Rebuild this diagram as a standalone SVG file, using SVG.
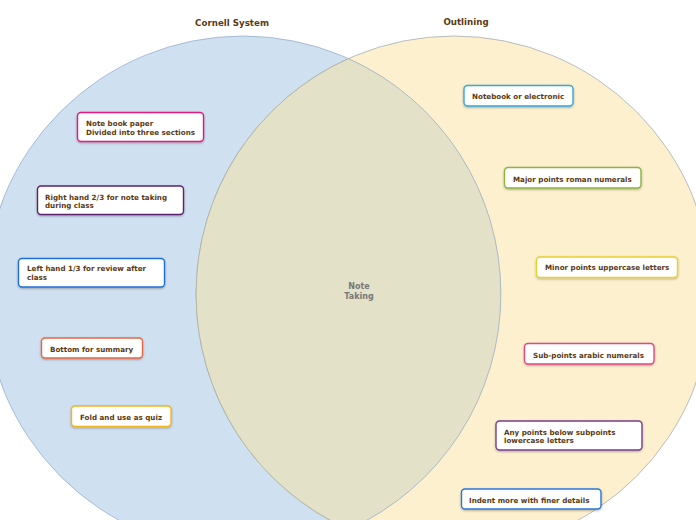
<svg xmlns="http://www.w3.org/2000/svg" width="696" height="520" viewBox="0 0 696 520">
<defs>
<filter id="sh" x="-10%" y="-30%" width="120%" height="170%">
<feDropShadow dx="0" dy="1" stdDeviation="0.8" flood-color="#000" flood-opacity="0.3"/>
</filter>
</defs>
<style>
.title{font-family:"DejaVu Sans",Verdana,sans-serif;font-weight:bold;font-size:8.7px;fill:#5c3a12;text-anchor:middle}
.lbl{font-family:"DejaVu Sans",Verdana,sans-serif;font-weight:bold;font-size:7.15px;fill:#5c3a12}
.ctr{font-family:"DejaVu Sans",Verdana,sans-serif;font-weight:bold;font-size:8px;fill:#777;text-anchor:middle}
.box{fill:#fff;stroke-width:1.4;filter:url(#sh)}
</style>
<rect width="696" height="520" fill="#fff"/>
<g id="venn">
<circle id="cornell" cx="243" cy="294" r="258" fill="#cfe0f1" stroke="#8ea6c4" stroke-width="0.7"/>
<circle id="outlining" cx="454" cy="294" r="258" fill="#fdf0cf" stroke="#9aa3ad" stroke-width="0.7"/>
<path id="overlap" d="M348.5,58.6 A258,258 0 0 1 348.5,529.4 A258,258 0 0 1 348.5,58.6 Z" fill="#e3e1c8"/>
<path d="M348.5,58.6 A258,258 0 0 0 348.5,529.4" fill="none" stroke="#a9ab9c" stroke-width="0.7"/>
<path d="M348.5,58.6 A258,258 0 0 1 348.5,529.4" fill="none" stroke="#8ea6c4" stroke-width="0.7"/>
</g>
<text class="title" x="232" y="26">Cornell System</text>
<text class="title" x="466" y="25">Outlining</text>
<g id="center"><text class="ctr" x="359" y="289">Note</text><text class="ctr" x="359" y="299">Taking</text></g>
<g id="connectors"></g>
<g id="n1"><rect class="box" x="77.5" y="112.5" width="126" height="29" rx="3.5" stroke="#e5197c"/><text class="lbl" x="86" y="126">Note book paper</text><text class="lbl" x="86" y="134.5">Divided into three sections</text></g>
<g id="n2"><rect class="box" x="37.5" y="186" width="146" height="28.5" rx="3.5" stroke="#5e2370"/><text class="lbl" x="45" y="199.5">Right hand 2/3 for note taking</text><text class="lbl" x="45" y="207.5">during class</text></g>
<g id="n3"><rect class="box" x="18.5" y="258.5" width="146" height="28.5" rx="3.5" stroke="#1f6fd8"/><text class="lbl" x="27" y="271">Left hand 1/3 for review after</text><text class="lbl" x="27" y="279.5">class</text></g>
<g id="n4"><rect class="box" x="41.5" y="338" width="101" height="20" rx="3.5" stroke="#ea6540"/><text class="lbl" x="50" y="351.5">Bottom for summary</text></g>
<g id="n5"><rect class="box" x="71.5" y="406" width="99.5" height="20.5" rx="3.5" stroke="#f2b51e"/><text class="lbl" x="80" y="419.5">Fold and use as quiz</text></g>
<g id="n6"><rect class="box" x="464" y="85.5" width="109" height="20.5" rx="3.5" stroke="#35a8dc"/><text class="lbl" x="472" y="99">Notebook or electronic</text></g>
<g id="n7"><rect class="box" x="504.5" y="167.5" width="136.5" height="20.5" rx="3.5" stroke="#8db43c"/><text class="lbl" x="513" y="181.5">Major points roman numerals</text></g>
<g id="n8"><rect class="box" x="536.5" y="257" width="141" height="20.5" rx="3.5" stroke="#e6d22c"/><text class="lbl" x="545" y="270">Minor points uppercase letters</text></g>
<g id="n9"><rect class="box" x="524.5" y="343.5" width="129.5" height="20.5" rx="3.5" stroke="#e8447e"/><text class="lbl" x="533" y="357.5">Sub-points arabic numerals</text></g>
<g id="n10"><rect class="box" x="496" y="421" width="146" height="29" rx="3.5" stroke="#7b3f8f"/><text class="lbl" x="504" y="434.5">Any points below subpoints</text><text class="lbl" x="504" y="443">lowercase letters</text></g>
<g id="n11"><rect class="box" x="461.5" y="489" width="139.5" height="20" rx="3.5" stroke="#2b78d8"/><text class="lbl" x="469" y="502.5">Indent more with finer details</text></g>
</svg>
